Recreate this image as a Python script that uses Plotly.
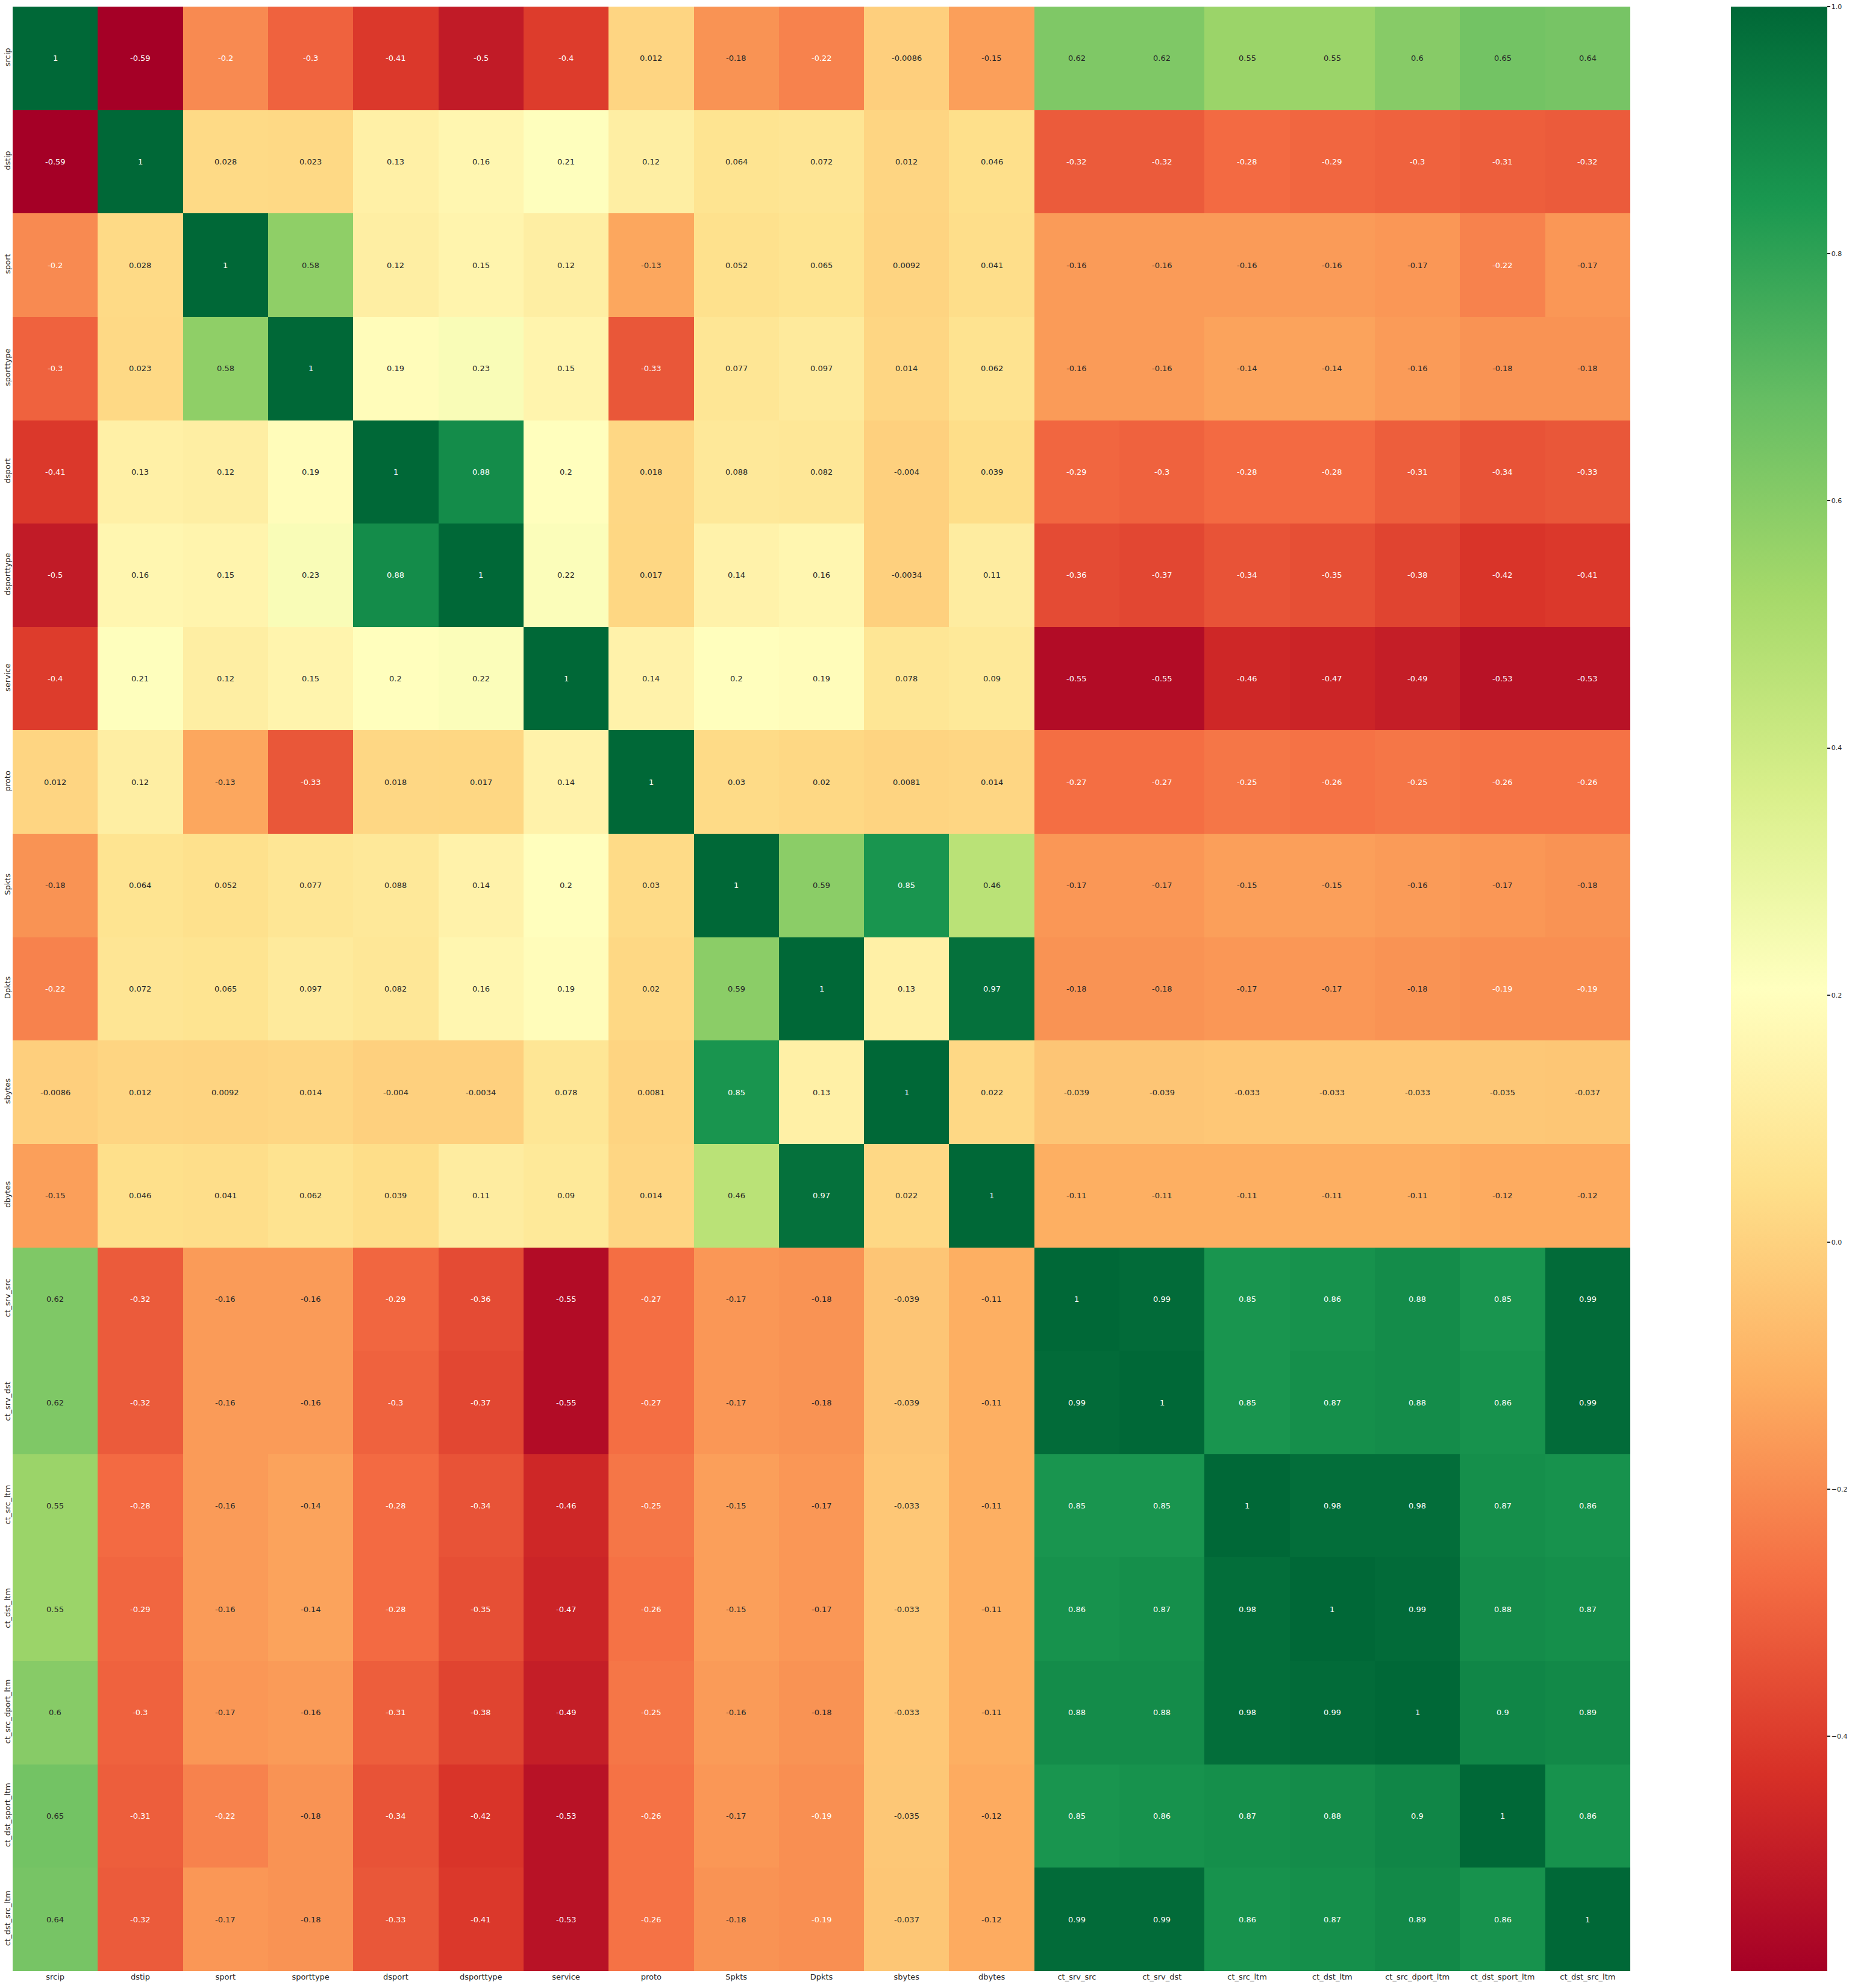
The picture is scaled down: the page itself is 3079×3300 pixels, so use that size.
import plotly.graph_objects as go
from plotly.colors import sample_colorscale, unlabel_rgb

labels = ["srcip", "dstip", "sport", "sporttype", "dsport", "dsporttype", "service", "proto",
          "Spkts", "Dpkts", "sbytes", "dbytes", "ct_srv_src", "ct_srv_dst", "ct_src_ltm",
          "ct_dst_ltm", "ct_src_dport_ltm", "ct_dst_sport_ltm", "ct_dst_src_ltm"]

row_srcip = [1, -0.59, -0.2, -0.3, -0.41, -0.5, -0.4, 0.012, -0.18, -0.22, -0.0086, -0.15, 0.62, 0.62, 0.55, 0.55, 0.6, 0.65, 0.64]
row_dstip = [-0.59, 1, 0.028, 0.023, 0.13, 0.16, 0.21, 0.12, 0.064, 0.072, 0.012, 0.046, -0.32, -0.32, -0.28, -0.29, -0.3, -0.31, -0.32]
row_sport = [-0.2, 0.028, 1, 0.58, 0.12, 0.15, 0.12, -0.13, 0.052, 0.065, 0.0092, 0.041, -0.16, -0.16, -0.16, -0.16, -0.17, -0.22, -0.17]
row_sporttype = [-0.3, 0.023, 0.58, 1, 0.19, 0.23, 0.15, -0.33, 0.077, 0.097, 0.014, 0.062, -0.16, -0.16, -0.14, -0.14, -0.16, -0.18, -0.18]
row_dsport = [-0.41, 0.13, 0.12, 0.19, 1, 0.88, 0.2, 0.018, 0.088, 0.082, -0.004, 0.039, -0.29, -0.3, -0.28, -0.28, -0.31, -0.34, -0.33]
row_dsporttype = [-0.5, 0.16, 0.15, 0.23, 0.88, 1, 0.22, 0.017, 0.14, 0.16, -0.0034, 0.11, -0.36, -0.37, -0.34, -0.35, -0.38, -0.42, -0.41]
row_service = [-0.4, 0.21, 0.12, 0.15, 0.2, 0.22, 1, 0.14, 0.2, 0.19, 0.078, 0.09, -0.55, -0.55, -0.46, -0.47, -0.49, -0.53, -0.53]
row_proto = [0.012, 0.12, -0.13, -0.33, 0.018, 0.017, 0.14, 1, 0.03, 0.02, 0.0081, 0.014, -0.27, -0.27, -0.25, -0.26, -0.25, -0.26, -0.26]
row_spkts = [-0.18, 0.064, 0.052, 0.077, 0.088, 0.14, 0.2, 0.03, 1, 0.59, 0.85, 0.46, -0.17, -0.17, -0.15, -0.15, -0.16, -0.17, -0.18]
row_dpkts = [-0.22, 0.072, 0.065, 0.097, 0.082, 0.16, 0.19, 0.02, 0.59, 1, 0.13, 0.97, -0.18, -0.18, -0.17, -0.17, -0.18, -0.19, -0.19]
row_sbytes = [-0.0086, 0.012, 0.0092, 0.014, -0.004, -0.0034, 0.078, 0.0081, 0.85, 0.13, 1, 0.022, -0.039, -0.039, -0.033, -0.033, -0.033, -0.035, -0.037]
row_dbytes = [-0.15, 0.046, 0.041, 0.062, 0.039, 0.11, 0.09, 0.014, 0.46, 0.97, 0.022, 1, -0.11, -0.11, -0.11, -0.11, -0.11, -0.12, -0.12]
row_ct_srv_src = [0.62, -0.32, -0.16, -0.16, -0.29, -0.36, -0.55, -0.27, -0.17, -0.18, -0.039, -0.11, 1, 0.99, 0.85, 0.86, 0.88, 0.85, 0.99]
row_ct_srv_dst = [0.62, -0.32, -0.16, -0.16, -0.3, -0.37, -0.55, -0.27, -0.17, -0.18, -0.039, -0.11, 0.99, 1, 0.85, 0.87, 0.88, 0.86, 0.99]
row_ct_src_ltm = [0.55, -0.28, -0.16, -0.14, -0.28, -0.34, -0.46, -0.25, -0.15, -0.17, -0.033, -0.11, 0.85, 0.85, 1, 0.98, 0.98, 0.87, 0.86]
row_ct_dst_ltm = [0.55, -0.29, -0.16, -0.14, -0.28, -0.35, -0.47, -0.26, -0.15, -0.17, -0.033, -0.11, 0.86, 0.87, 0.98, 1, 0.99, 0.88, 0.87]
row_ct_src_dport_ltm = [0.6, -0.3, -0.17, -0.16, -0.31, -0.38, -0.49, -0.25, -0.16, -0.18, -0.033, -0.11, 0.88, 0.88, 0.98, 0.99, 1, 0.9, 0.89]
row_ct_dst_sport_ltm = [0.65, -0.31, -0.22, -0.18, -0.34, -0.42, -0.53, -0.26, -0.17, -0.19, -0.035, -0.12, 0.85, 0.86, 0.87, 0.88, 0.9, 1, 0.86]
row_ct_dst_src_ltm = [0.64, -0.32, -0.17, -0.18, -0.33, -0.41, -0.53, -0.26, -0.18, -0.19, -0.037, -0.12, 0.99, 0.99, 0.86, 0.87, 0.89, 0.86, 1]

z = [row_srcip, row_dstip, row_sport, row_sporttype, row_dsport, row_dsporttype, row_service,
     row_proto, row_spkts, row_dpkts, row_sbytes, row_dbytes, row_ct_srv_src, row_ct_srv_dst,
     row_ct_src_ltm, row_ct_dst_ltm, row_ct_src_dport_ltm, row_ct_dst_sport_ltm, row_ct_dst_src_ltm]

cbar_ticks = [-0.4, -0.2, 0.0, 0.2, 0.4, 0.6, 0.8, 1.0]

rdylgn = ['rgb(165,0,38)', 'rgb(215,48,39)', 'rgb(244,109,67)', 'rgb(253,174,97)',
          'rgb(254,224,139)', 'rgb(255,255,191)', 'rgb(217,239,139)', 'rgb(166,217,106)',
          'rgb(102,189,99)', 'rgb(26,152,80)', 'rgb(0,104,55)']
cscale = [[i / 10, c] for i, c in enumerate(rdylgn)]

zmin = min(min(r) for r in z)
zmax = max(max(r) for r in z)

W, H = 3079, 3300
L, R, T, B = 21, 3079 - 2706, 11, 3300 - 3272
plot_w = W - L - R

fig = go.Figure()
fig.add_trace(go.Heatmap(
    z=z, x=labels, y=labels, colorscale=cscale, zmin=zmin, zmax=zmax,
    xgap=0, ygap=0,
    colorbar=dict(
        x=(2873 - L) / plot_w, xanchor="left", xpad=0,
        y=0.5, yanchor="middle", len=1, lenmode="fraction", ypad=0,
        thickness=160, thicknessmode="pixels", outlinewidth=0,
        tickvals=cbar_ticks,
        ticktext=[("\u2212" if v < 0 else "") + f"{abs(v):.1f}" for v in cbar_ticks],
        ticks="outside", ticklen=5, tickwidth=1.5, tickcolor="#262626",
        tickfont=dict(family="DejaVu Sans", size=11, color="#262626"),
    ),
))


def lum(rgbstr):
    r, g, b = [c / 255 for c in unlabel_rgb(rgbstr)]
    def lin(c):
        return c / 12.92 if c <= 0.03928 else ((c + 0.055) / 1.055) ** 2.4
    return 0.2126 * lin(r) + 0.7152 * lin(g) + 0.0722 * lin(b)


annotations = []
for i, row in enumerate(z):
    for j, v in enumerate(row):
        t = (v - zmin) / (zmax - zmin)
        col = sample_colorscale(cscale, [min(max(t, 0), 1)])[0]
        tc = "#262626" if lum(col) > 0.408 else "white"
        annotations.append(dict(
            x=labels[j], y=labels[i], text=f"{v:.2g}", showarrow=False,
            font=dict(family="DejaVu Sans", size=13, color=tc),
        ))

fig.update_layout(
    width=W, height=H,
    margin=dict(l=L, r=R, t=T, b=B, autoexpand=False),
    paper_bgcolor="white", plot_bgcolor="white",
    annotations=annotations,
    xaxis=dict(showgrid=False, zeroline=False, ticks="", showline=False,
               tickfont=dict(family="DejaVu Sans", size=13, color="#262626"),
               tickangle=0, ticklabelstandoff=0),
    yaxis=dict(showgrid=False, zeroline=False, ticks="", showline=False,
               autorange="reversed", tickangle=-90,
               tickfont=dict(family="DejaVu Sans", size=13, color="#262626"),
               ticklabelstandoff=0),
)

fig.write_html("out.html", config={"displayModeBar": False},
               post_script="document.body.style.margin='0';document.body.style.padding='0';")
